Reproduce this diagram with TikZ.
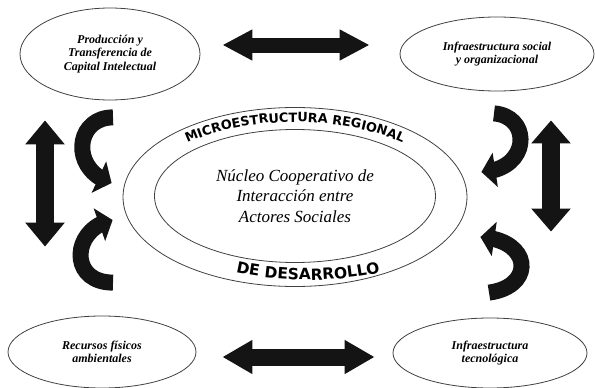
\documentclass[tikz,border=0pt]{standalone}
\usepackage{fontspec}
\setmainfont{Liberation Serif}
\newfontfamily\heavysans{DejaVu Sans}
\usetikzlibrary{shapes.geometric,arrows.meta,bending,decorations.text}

\begin{document}
\begin{tikzpicture}[x=1pt,y=-1pt,
    oval/.style={draw=black!75,line width=0.8pt,ellipse,inner sep=0pt,align=center,
      font=\fontsize{12}{13.5}\selectfont\bfseries\itshape},
    dbl/.style n args={3}{line width=#1,draw=black!92,
      {Triangle[width=#2,length=#3]}-{Triangle[width=#2,length=#3]}},
    curva/.style={line width=16pt,draw=black!92,-{Triangle[width=34pt,length=14pt]}}]
      \useasboundingbox (0,0) rectangle (595,388);

      \node[oval,minimum width=180pt,minimum height=92pt] (prod) at (110,54)
        {Producción y\\Transferencia de\\Capital Intelectual};
      \node[oval,minimum width=194pt,minimum height=74pt] (infsoc) at (497,54)
        {Infraestructura social\\y organizacional};
      \node[oval,minimum width=188pt,minimum height=72pt] (recur) at (102,352)
        {Recursos físicos\\ambientales};
      \node[oval,minimum width=194pt,minimum height=70pt] (inftec) at (490,353)
        {Infraestructura\\tecnológica};

      \node[draw=black!75,line width=0.8pt,ellipse,minimum width=344pt,minimum height=179pt]
        (microreg) at (295,197) {};
      \node[oval,minimum width=281pt,minimum height=133pt,
        font=\fontsize{17}{20.5}\selectfont\itshape] (nucleo) at (295,196)
        {Núcleo Cooperativo de\\Interacción entre\\Actores Sociales};

      \path[decorate,decoration={text along path,text align=center,
        text={|\heavysans\bfseries\fontsize{12.8}{14}\selectfont|MICROESTRUCTURA REGIONAL}}]
        ([xshift=-155pt]microreg.center) arc[start angle=180,end angle=0,x radius=155pt,y radius=75pt];
      \path[decorate,decoration={text along path,text align=center,
        text={|\heavysans\bfseries\fontsize{15.5}{17}\selectfont|DE DESARROLLO}}]
        ([xshift=-159pt]microreg.center) arc[start angle=180,end angle=360,x radius=172pt,y radius=83pt];

      \draw[dbl={15pt}{29pt}{30pt},shorten <=22pt,shorten >=30pt]
        ([yshift=9pt]prod.east) -- ([yshift=9pt]prod.east -| infsoc.west);
      \draw[dbl={17pt}{32pt}{30pt},shorten <=26pt,shorten >=18pt]
        ([yshift=-5pt]recur.east) -- ([yshift=-5pt]recur.east -| inftec.west);
      \draw[dbl={18pt}{38pt}{24pt},shorten <=20pt,shorten >=69pt]
        ([xshift=-65pt]prod.south) -- ([xshift=-65pt]prod.south |- recur.north);
      \draw[dbl={18pt}{38pt}{23pt},shorten <=29pt,shorten >=86pt]
        ([xshift=54pt]infsoc.south) -- ([xshift=54pt]infsoc.south |- inftec.north);

      \draw[curva] ([shift={(3,17)}]prod.south) .. controls +(-38,0) and +(-42,-13)
        .. ([shift={(-11,-14)}]microreg.west);
      \draw[curva] ([shift={(11,-33)}]recur.north) .. controls +(-45,0) and +(-41,8)
        .. ([shift={(-10,23)}]microreg.west);
      \draw[curva] ([shift={(-3,22)}]infsoc.south) .. controls +(38,3) and +(49,-2)
        .. ([shift={(14,-25)}]microreg.east);
      \draw[curva] ([shift={(-1,-25)}]inftec.north) .. controls +(46,-6) and +(52,3)
        .. ([shift={(13,40)}]microreg.east);
    \end{tikzpicture}
\end{document}
